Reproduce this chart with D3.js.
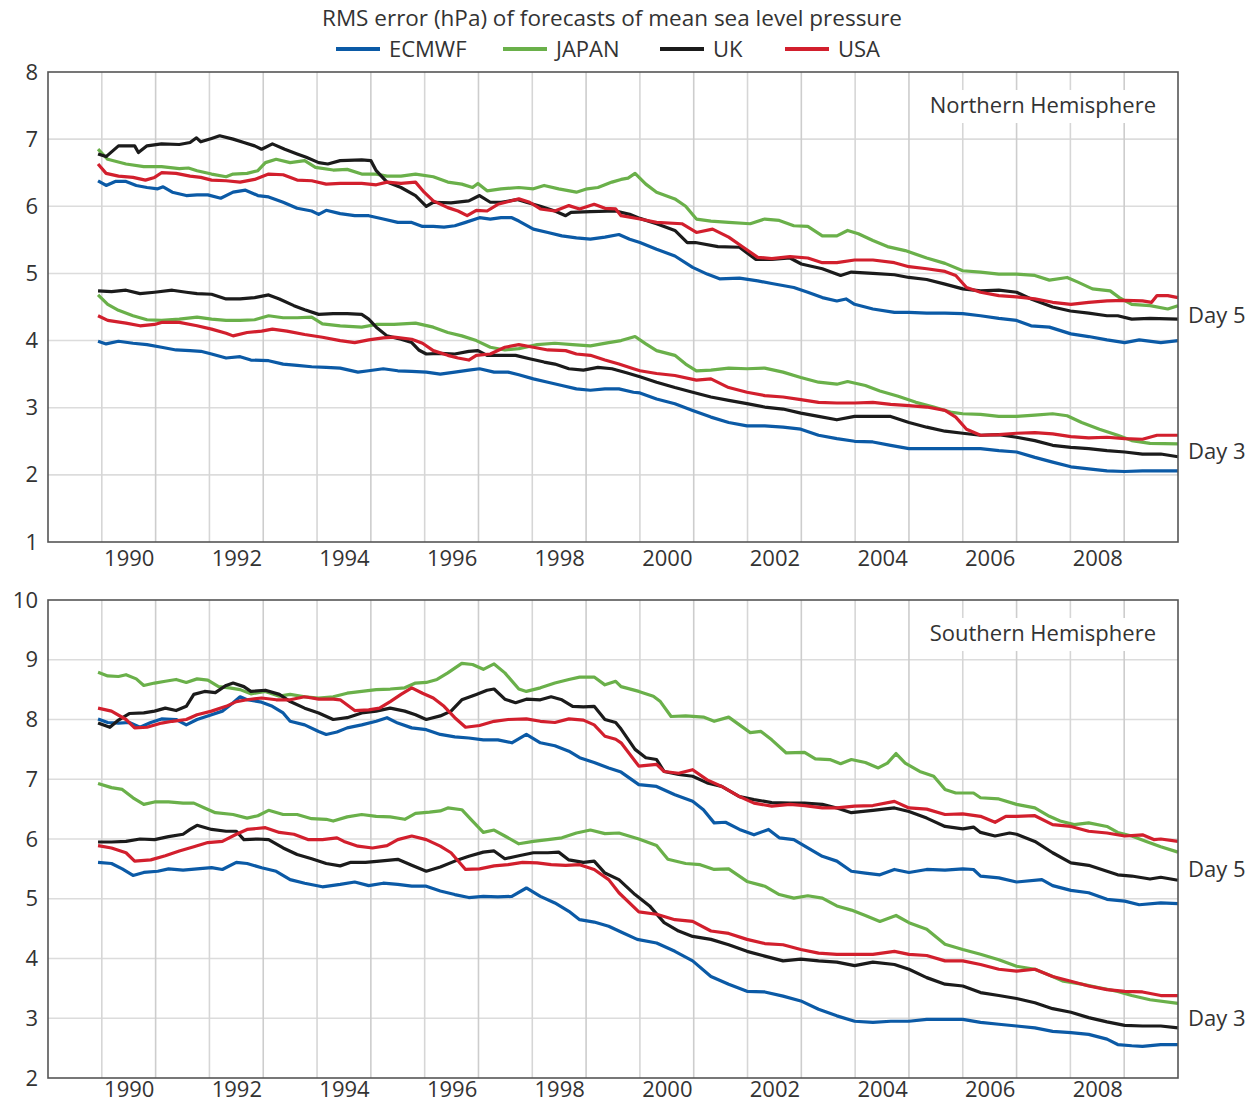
<!DOCTYPE html>
<html>
<head>
<meta charset="utf-8">
<script src="https://cdn.jsdelivr.net/npm/d3@7"></script>
<style>
  body { margin: 0; background: #fff; }
  svg text { font-family: "Open Sans", "Noto Sans", sans-serif; fill: #333; }
</style>
</head>
<body>
<div id="chart"></div>
<script>
// centres shown in the legend, in drawing order
const centres = ["ECMWF", "JAPAN", "UK", "USA"];
const gridYears = d3.range(1990, 2010);
const labelYears = [1990, 1992, 1994, 1996, 1998, 2000, 2002, 2004, 2006, 2008];
const nhTicks = [1, 2, 3, 4, 5, 6, 7, 8];
const shTicks = [2, 3, 4, 5, 6, 7, 8, 9, 10];

// ---- Northern Hemisphere, day 5 ----
const nhDay5Ecmwf = [[1989.93,6.38],[1990.08,6.31],[1990.25,6.37],[1990.45,6.37],[1990.64,6.31],[1990.84,6.28],[1991.04,6.26],[1991.14,6.29],[1991.31,6.21],[1991.57,6.16],[1991.77,6.17],[1991.97,6.17],[1992.21,6.12],[1992.44,6.21],[1992.67,6.24],[1992.90,6.16],[1993.10,6.14],[1993.37,6.06],[1993.63,5.97],[1993.90,5.93],[1994.03,5.88],[1994.17,5.94],[1994.43,5.89],[1994.70,5.86],[1994.96,5.86],[1995.23,5.81],[1995.50,5.76],[1995.76,5.76],[1995.96,5.70],[1996.16,5.70],[1996.36,5.69],[1996.56,5.71],[1996.76,5.76],[1997.02,5.83],[1997.22,5.81],[1997.42,5.83],[1997.62,5.83],[1997.75,5.78],[1998.02,5.66],[1998.29,5.61],[1998.55,5.56],[1998.82,5.53],[1999.08,5.51],[1999.35,5.54],[1999.61,5.58],[1999.81,5.51],[2000.00,5.46],[2000.31,5.36],[2000.65,5.26],[2000.98,5.09],[2001.25,4.99],[2001.48,4.92],[2001.85,4.93],[2002.19,4.89],[2002.45,4.85],[2002.86,4.79],[2003.12,4.72],[2003.39,4.64],[2003.66,4.59],[2003.83,4.62],[2003.99,4.54],[2004.33,4.47],[2004.73,4.42],[2005.00,4.42],[2005.33,4.41],[2005.67,4.41],[2006.00,4.40],[2006.33,4.37],[2006.67,4.33],[2007.00,4.30],[2007.27,4.22],[2007.61,4.20],[2008.01,4.10],[2008.34,4.06],[2008.68,4.01],[2009.01,3.97],[2009.28,4.01],[2009.68,3.97],[2010.00,4.00]];
const nhDay5Japan = [[1989.93,6.85],[1990.11,6.70],[1990.45,6.63],[1990.78,6.59],[1991.11,6.59],[1991.44,6.56],[1991.61,6.57],[1991.77,6.53],[1992.04,6.48],[1992.31,6.44],[1992.44,6.48],[1992.70,6.49],[1992.90,6.53],[1993.04,6.65],[1993.24,6.70],[1993.50,6.65],[1993.77,6.68],[1993.97,6.58],[1994.30,6.54],[1994.56,6.55],[1994.83,6.48],[1995.10,6.48],[1995.30,6.45],[1995.56,6.45],[1995.83,6.48],[1996.16,6.44],[1996.43,6.36],[1996.69,6.33],[1996.89,6.28],[1996.99,6.34],[1997.16,6.23],[1997.42,6.26],[1997.75,6.28],[1998.02,6.26],[1998.22,6.31],[1998.49,6.26],[1998.82,6.21],[1999.02,6.26],[1999.22,6.28],[1999.48,6.36],[1999.65,6.40],[1999.78,6.42],[1999.91,6.49],[2000.11,6.33],[2000.31,6.21],[2000.65,6.11],[2000.85,6.00],[2001.05,5.81],[2001.32,5.78],[2001.65,5.76],[2002.05,5.74],[2002.32,5.81],[2002.59,5.79],[2002.86,5.71],[2003.12,5.70],[2003.39,5.56],[2003.66,5.56],[2003.86,5.64],[2004.06,5.59],[2004.33,5.49],[2004.60,5.40],[2004.93,5.34],[2005.33,5.23],[2005.67,5.15],[2006.00,5.04],[2006.33,5.02],[2006.67,4.99],[2007.00,4.99],[2007.34,4.97],[2007.61,4.90],[2007.94,4.94],[2008.14,4.87],[2008.41,4.77],[2008.74,4.74],[2008.91,4.64],[2009.14,4.54],[2009.48,4.52],[2009.81,4.47],[2010.00,4.52]];
const nhDay5Uk = [[1989.93,6.78],[1990.08,6.74],[1990.31,6.90],[1990.61,6.90],[1990.68,6.80],[1990.84,6.90],[1991.11,6.93],[1991.44,6.92],[1991.64,6.95],[1991.76,7.02],[1991.84,6.96],[1992.04,7.01],[1992.19,7.05],[1992.44,7.00],[1992.64,6.95],[1992.84,6.90],[1992.97,6.85],[1993.17,6.93],[1993.40,6.85],[1993.63,6.78],[1993.80,6.73],[1994.03,6.65],[1994.20,6.63],[1994.43,6.68],[1994.83,6.69],[1995.00,6.68],[1995.10,6.53],[1995.30,6.36],[1995.56,6.28],[1995.83,6.16],[1996.03,6.00],[1996.16,6.06],[1996.49,6.05],[1996.82,6.08],[1997.02,6.16],[1997.22,6.06],[1997.42,6.06],[1997.72,6.10],[1997.89,6.06],[1998.15,6.00],[1998.42,5.93],[1998.62,5.86],[1998.72,5.91],[1999.08,5.92],[1999.55,5.93],[1999.81,5.88],[2000.00,5.82],[2000.31,5.74],[2000.65,5.64],[2000.88,5.46],[2001.03,5.46],[2001.45,5.40],[2001.85,5.39],[2002.15,5.21],[2002.45,5.21],[2002.79,5.23],[2003.00,5.14],[2003.39,5.07],[2003.73,4.97],[2003.93,5.02],[2004.33,5.00],[2004.73,4.98],[2005.00,4.94],[2005.33,4.91],[2005.67,4.84],[2006.00,4.77],[2006.33,4.74],[2006.67,4.75],[2007.00,4.72],[2007.27,4.62],[2007.67,4.50],[2008.00,4.44],[2008.34,4.41],[2008.68,4.37],[2008.88,4.37],[2009.14,4.32],[2009.48,4.33],[2010.00,4.32]];
const nhDay5Usa = [[1989.93,6.63],[1990.08,6.49],[1990.31,6.45],[1990.58,6.43],[1990.81,6.39],[1990.98,6.43],[1991.11,6.50],[1991.38,6.49],[1991.64,6.45],[1991.84,6.43],[1992.04,6.39],[1992.31,6.38],[1992.57,6.36],[1992.84,6.40],[1993.10,6.48],[1993.37,6.47],[1993.63,6.39],[1993.90,6.38],[1994.17,6.33],[1994.43,6.34],[1994.83,6.34],[1995.10,6.32],[1995.30,6.36],[1995.56,6.34],[1995.83,6.36],[1995.99,6.21],[1996.16,6.08],[1996.43,5.98],[1996.62,5.93],[1996.79,5.86],[1996.96,5.94],[1997.16,5.93],[1997.36,6.03],[1997.75,6.11],[1997.95,6.06],[1998.15,5.96],[1998.42,5.93],[1998.68,6.01],[1998.88,5.96],[1999.15,6.03],[1999.35,5.97],[1999.55,5.96],[1999.65,5.86],[2000.00,5.81],[2000.31,5.76],[2000.78,5.74],[2001.05,5.61],[2001.35,5.66],[2001.65,5.54],[2001.92,5.39],[2002.19,5.24],[2002.45,5.22],[2002.79,5.25],[2003.12,5.23],[2003.39,5.16],[2003.66,5.16],[2003.99,5.20],[2004.33,5.20],[2004.73,5.16],[2005.00,5.10],[2005.33,5.07],[2005.67,5.03],[2005.87,4.97],[2006.07,4.79],[2006.33,4.72],[2006.67,4.67],[2007.00,4.65],[2007.34,4.62],[2007.67,4.57],[2008.01,4.54],[2008.34,4.57],[2008.68,4.59],[2009.01,4.60],[2009.34,4.59],[2009.51,4.57],[2009.61,4.67],[2009.81,4.67],[2010.00,4.64]];

// ---- Northern Hemisphere, day 3 ----
const nhDay3Ecmwf = [[1989.93,3.99],[1990.08,3.95],[1990.31,3.99],[1990.58,3.96],[1990.84,3.94],[1991.11,3.90],[1991.38,3.86],[1991.64,3.85],[1991.84,3.84],[1992.04,3.80],[1992.31,3.74],[1992.57,3.76],[1992.77,3.71],[1993.10,3.70],[1993.37,3.65],[1993.63,3.63],[1993.90,3.61],[1994.17,3.60],[1994.43,3.59],[1994.76,3.53],[1994.96,3.55],[1995.23,3.58],[1995.50,3.55],[1995.76,3.54],[1996.03,3.53],[1996.29,3.50],[1996.56,3.53],[1996.82,3.56],[1997.02,3.58],[1997.29,3.53],[1997.55,3.53],[1997.75,3.49],[1998.02,3.43],[1998.29,3.38],[1998.55,3.33],[1998.82,3.28],[1999.08,3.26],[1999.35,3.28],[1999.61,3.28],[1999.88,3.23],[2000.00,3.22],[2000.31,3.13],[2000.65,3.06],[2000.98,2.96],[2001.32,2.86],[2001.65,2.78],[2001.99,2.73],[2002.32,2.73],[2002.66,2.71],[2002.99,2.68],[2003.32,2.59],[2003.66,2.54],[2003.99,2.50],[2004.33,2.49],[2004.66,2.44],[2005.00,2.39],[2005.33,2.39],[2005.67,2.39],[2006.00,2.39],[2006.33,2.39],[2006.67,2.36],[2007.00,2.34],[2007.34,2.26],[2007.67,2.19],[2008.01,2.12],[2008.34,2.09],[2008.68,2.06],[2009.01,2.05],[2009.34,2.06],[2009.68,2.06],[2010.00,2.06]];
const nhDay3Japan = [[1989.93,4.68],[1990.11,4.54],[1990.31,4.45],[1990.58,4.37],[1990.84,4.31],[1991.11,4.30],[1991.44,4.32],[1991.77,4.35],[1992.04,4.32],[1992.31,4.30],[1992.57,4.30],[1992.84,4.31],[1993.10,4.37],[1993.37,4.34],[1993.63,4.34],[1993.90,4.35],[1994.10,4.25],[1994.43,4.22],[1994.83,4.20],[1995.10,4.24],[1995.43,4.24],[1995.83,4.26],[1996.16,4.20],[1996.43,4.12],[1996.69,4.07],[1996.96,4.00],[1997.22,3.90],[1997.49,3.86],[1997.75,3.88],[1998.09,3.94],[1998.42,3.96],[1998.75,3.94],[1999.08,3.92],[1999.42,3.97],[1999.65,4.00],[1999.91,4.06],[2000.11,3.95],[2000.31,3.85],[2000.65,3.78],[2000.85,3.65],[2001.05,3.55],[2001.32,3.56],[2001.65,3.59],[2001.99,3.58],[2002.32,3.59],[2002.66,3.53],[2002.99,3.45],[2003.32,3.38],[2003.66,3.35],[2003.86,3.39],[2004.19,3.33],[2004.46,3.25],[2004.80,3.17],[2005.13,3.08],[2005.46,3.01],[2005.80,2.93],[2006.00,2.91],[2006.33,2.90],[2006.67,2.87],[2007.00,2.87],[2007.34,2.89],[2007.67,2.91],[2007.94,2.88],[2008.21,2.78],[2008.54,2.68],[2008.88,2.59],[2009.14,2.51],[2009.48,2.47],[2010.00,2.46]];
const nhDay3Uk = [[1989.93,4.74],[1990.18,4.73],[1990.45,4.75],[1990.71,4.70],[1990.98,4.72],[1991.31,4.75],[1991.57,4.72],[1991.77,4.70],[1992.04,4.69],[1992.31,4.62],[1992.57,4.62],[1992.84,4.64],[1993.10,4.68],[1993.30,4.62],[1993.57,4.52],[1993.77,4.46],[1994.03,4.39],[1994.30,4.40],[1994.56,4.40],[1994.83,4.39],[1994.96,4.32],[1995.10,4.20],[1995.30,4.07],[1995.56,4.02],[1995.76,3.97],[1995.89,3.86],[1996.03,3.80],[1996.29,3.81],[1996.56,3.80],[1996.82,3.84],[1996.99,3.85],[1997.16,3.78],[1997.42,3.78],[1997.69,3.78],[1997.95,3.73],[1998.22,3.68],[1998.42,3.65],[1998.68,3.58],[1998.95,3.56],[1999.22,3.60],[1999.48,3.58],[1999.75,3.52],[2000.00,3.46],[2000.31,3.38],[2000.65,3.30],[2000.98,3.23],[2001.32,3.16],[2001.65,3.11],[2001.99,3.06],[2002.32,3.01],[2002.66,2.98],[2002.99,2.92],[2003.32,2.87],[2003.66,2.82],[2003.99,2.87],[2004.33,2.87],[2004.66,2.87],[2005.00,2.78],[2005.33,2.71],[2005.67,2.65],[2006.00,2.62],[2006.33,2.59],[2006.67,2.60],[2007.00,2.56],[2007.34,2.51],[2007.67,2.44],[2008.01,2.41],[2008.34,2.39],[2008.68,2.36],[2009.01,2.34],[2009.34,2.31],[2009.68,2.31],[2010.00,2.27]];
const nhDay3Usa = [[1989.93,4.37],[1990.11,4.30],[1990.45,4.26],[1990.71,4.22],[1990.98,4.24],[1991.11,4.27],[1991.44,4.27],[1991.77,4.22],[1992.04,4.17],[1992.31,4.11],[1992.44,4.07],[1992.70,4.12],[1992.97,4.14],[1993.17,4.17],[1993.44,4.14],[1993.77,4.09],[1994.10,4.05],[1994.43,4.00],[1994.70,3.97],[1994.96,4.01],[1995.23,4.04],[1995.43,4.05],[1995.76,4.02],[1995.96,3.96],[1996.16,3.85],[1996.43,3.78],[1996.62,3.74],[1996.82,3.71],[1996.96,3.78],[1997.22,3.80],[1997.49,3.90],[1997.75,3.94],[1998.02,3.90],[1998.29,3.86],[1998.62,3.85],[1998.82,3.80],[1999.08,3.78],[1999.35,3.71],[1999.61,3.65],[1999.88,3.58],[2000.00,3.55],[2000.31,3.51],[2000.65,3.48],[2001.05,3.41],[2001.32,3.43],[2001.65,3.30],[2001.99,3.23],[2002.32,3.18],[2002.66,3.16],[2002.99,3.12],[2003.32,3.08],[2003.66,3.07],[2003.99,3.07],[2004.33,3.08],[2004.66,3.05],[2005.00,3.03],[2005.33,3.01],[2005.67,2.96],[2005.87,2.86],[2006.07,2.68],[2006.33,2.59],[2006.67,2.60],[2007.00,2.62],[2007.34,2.63],[2007.67,2.61],[2008.01,2.57],[2008.34,2.55],[2008.68,2.56],[2009.01,2.54],[2009.34,2.53],[2009.61,2.59],[2010.00,2.59]];

// ---- Southern Hemisphere, day 5 ----
const shDay5Ecmwf = [[1989.93,8.01],[1990.11,7.95],[1990.31,7.94],[1990.51,7.95],[1990.71,7.87],[1990.91,7.95],[1991.11,8.01],[1991.38,8.00],[1991.57,7.91],[1991.77,8.00],[1992.04,8.08],[1992.24,8.14],[1992.44,8.28],[1992.57,8.38],[1992.70,8.33],[1992.97,8.29],[1993.17,8.22],[1993.37,8.11],[1993.50,7.97],[1993.77,7.91],[1994.03,7.80],[1994.17,7.75],[1994.37,7.79],[1994.56,7.86],[1994.83,7.91],[1995.10,7.97],[1995.30,8.03],[1995.50,7.94],[1995.76,7.86],[1996.03,7.83],[1996.29,7.75],[1996.56,7.71],[1996.82,7.69],[1997.09,7.66],[1997.36,7.66],[1997.62,7.61],[1997.89,7.75],[1998.15,7.61],[1998.42,7.56],[1998.68,7.47],[1998.88,7.36],[1999.15,7.28],[1999.42,7.19],[1999.65,7.12],[1999.98,6.91],[2000.31,6.88],[2000.65,6.74],[2000.98,6.63],[2001.18,6.49],[2001.38,6.27],[2001.59,6.28],[2001.85,6.16],[2002.12,6.07],[2002.39,6.16],[2002.59,6.02],[2002.86,5.99],[2003.12,5.85],[2003.39,5.71],[2003.66,5.63],[2003.93,5.46],[2004.19,5.43],[2004.46,5.40],[2004.73,5.49],[2005.00,5.44],[2005.33,5.49],[2005.67,5.48],[2006.00,5.50],[2006.20,5.49],[2006.33,5.38],[2006.67,5.35],[2007.00,5.28],[2007.47,5.32],[2007.67,5.22],[2008.01,5.14],[2008.34,5.10],[2008.68,4.99],[2009.01,4.96],[2009.28,4.90],[2009.68,4.93],[2010.00,4.92]];
const shDay5Japan = [[1989.93,8.79],[1990.11,8.73],[1990.31,8.72],[1990.45,8.75],[1990.64,8.68],[1990.78,8.57],[1990.98,8.61],[1991.18,8.64],[1991.38,8.67],[1991.57,8.62],[1991.77,8.68],[1991.97,8.66],[1992.17,8.55],[1992.37,8.53],[1992.57,8.50],[1992.77,8.43],[1993.04,8.47],[1993.30,8.39],[1993.50,8.42],[1993.77,8.38],[1994.03,8.36],[1994.30,8.38],[1994.56,8.44],[1994.83,8.47],[1995.10,8.50],[1995.36,8.51],[1995.63,8.53],[1995.83,8.61],[1996.03,8.62],[1996.23,8.67],[1996.43,8.78],[1996.69,8.94],[1996.89,8.92],[1997.09,8.84],[1997.29,8.93],[1997.49,8.78],[1997.75,8.51],[1997.89,8.47],[1998.15,8.53],[1998.42,8.61],[1998.68,8.67],[1998.88,8.71],[1999.15,8.71],[1999.35,8.58],[1999.55,8.64],[1999.65,8.55],[1999.98,8.47],[2000.25,8.39],[2000.38,8.30],[2000.58,8.05],[2000.85,8.06],[2001.18,8.04],[2001.38,7.97],[2001.65,8.04],[2001.85,7.91],[2002.05,7.78],[2002.25,7.80],[2002.45,7.66],[2002.72,7.44],[2003.06,7.45],[2003.26,7.34],[2003.53,7.33],[2003.73,7.26],[2003.93,7.33],[2004.19,7.28],[2004.43,7.19],[2004.60,7.27],[2004.76,7.43],[2004.93,7.27],[2005.20,7.13],[2005.46,7.05],[2005.67,6.83],[2005.87,6.77],[2006.20,6.77],[2006.33,6.69],[2006.67,6.67],[2007.00,6.58],[2007.34,6.52],[2007.61,6.38],[2007.81,6.30],[2008.07,6.24],[2008.34,6.27],[2008.68,6.21],[2008.88,6.11],[2009.14,6.05],[2009.41,5.96],[2009.68,5.87],[2010.00,5.78]];
const shDay5Uk = [[1989.93,7.94],[1990.15,7.87],[1990.31,7.99],[1990.51,8.10],[1990.78,8.11],[1990.98,8.14],[1991.18,8.19],[1991.38,8.15],[1991.57,8.22],[1991.71,8.42],[1991.91,8.47],[1992.11,8.45],[1992.31,8.57],[1992.44,8.61],[1992.64,8.55],[1992.77,8.47],[1993.04,8.49],[1993.30,8.42],[1993.50,8.30],[1993.77,8.19],[1994.03,8.11],[1994.30,8.00],[1994.56,8.03],[1994.83,8.11],[1995.10,8.14],[1995.36,8.19],[1995.63,8.14],[1995.83,8.08],[1996.03,8.00],[1996.29,8.06],[1996.49,8.14],[1996.69,8.33],[1996.96,8.42],[1997.16,8.49],[1997.29,8.51],[1997.49,8.34],[1997.69,8.28],[1997.89,8.34],[1998.15,8.33],[1998.35,8.38],[1998.55,8.33],[1998.75,8.22],[1998.95,8.21],[1999.15,8.22],[1999.35,8.00],[1999.55,7.95],[1999.65,7.84],[1999.91,7.50],[2000.11,7.36],[2000.31,7.33],[2000.45,7.13],[2000.72,7.08],[2000.98,7.05],[2001.25,6.94],[2001.52,6.88],[2001.85,6.71],[2002.12,6.66],[2002.45,6.61],[2002.79,6.60],[2003.06,6.60],[2003.39,6.58],[2003.66,6.52],[2003.93,6.44],[2004.33,6.48],[2004.73,6.52],[2005.00,6.46],[2005.33,6.35],[2005.67,6.21],[2006.00,6.17],[2006.20,6.20],[2006.33,6.11],[2006.60,6.05],[2006.87,6.10],[2007.00,6.08],[2007.34,5.96],[2007.67,5.77],[2008.01,5.60],[2008.34,5.56],[2008.68,5.46],[2008.88,5.40],[2009.14,5.38],[2009.48,5.33],[2009.68,5.36],[2010.00,5.31]];
const shDay5Usa = [[1989.93,8.19],[1990.18,8.14],[1990.45,8.00],[1990.61,7.86],[1990.84,7.87],[1991.11,7.94],[1991.31,7.97],[1991.57,8.00],[1991.77,8.08],[1992.04,8.14],[1992.31,8.22],[1992.50,8.30],[1992.70,8.33],[1992.97,8.36],[1993.24,8.33],[1993.50,8.33],[1993.77,8.38],[1994.03,8.34],[1994.30,8.34],[1994.43,8.33],[1994.70,8.15],[1994.96,8.16],[1995.16,8.19],[1995.36,8.30],[1995.56,8.42],[1995.76,8.53],[1995.96,8.44],[1996.16,8.36],[1996.36,8.22],[1996.56,8.03],[1996.76,7.87],[1997.02,7.90],[1997.29,7.97],[1997.55,8.00],[1997.89,8.01],[1998.15,7.97],[1998.42,7.95],[1998.68,8.01],[1998.95,7.99],[1999.15,7.91],[1999.35,7.72],[1999.55,7.67],[1999.65,7.61],[1999.98,7.22],[2000.31,7.25],[2000.45,7.13],[2000.72,7.10],[2000.98,7.16],[2001.25,6.99],[2001.52,6.88],[2001.85,6.71],[2002.12,6.60],[2002.45,6.55],[2002.79,6.58],[2003.06,6.56],[2003.39,6.52],[2003.66,6.52],[2003.99,6.55],[2004.33,6.56],[2004.73,6.63],[2005.00,6.52],[2005.33,6.50],[2005.67,6.41],[2006.00,6.42],[2006.33,6.38],[2006.60,6.28],[2006.80,6.38],[2007.00,6.38],[2007.34,6.39],[2007.67,6.24],[2008.01,6.21],[2008.34,6.13],[2008.68,6.10],[2009.01,6.05],[2009.34,6.07],[2009.55,5.99],[2009.68,6.00],[2010.00,5.96]];

// ---- Southern Hemisphere, day 3 ----
const shDay3Ecmwf = [[1989.93,5.61],[1990.18,5.59],[1990.38,5.50],[1990.58,5.39],[1990.78,5.44],[1991.04,5.46],[1991.24,5.50],[1991.51,5.48],[1991.77,5.50],[1992.04,5.52],[1992.24,5.49],[1992.50,5.61],[1992.70,5.59],[1992.97,5.52],[1993.24,5.46],[1993.50,5.32],[1993.77,5.26],[1994.10,5.20],[1994.43,5.24],[1994.70,5.28],[1994.96,5.22],[1995.23,5.26],[1995.50,5.24],[1995.76,5.21],[1996.03,5.21],[1996.29,5.13],[1996.56,5.07],[1996.82,5.02],[1997.09,5.04],[1997.36,5.03],[1997.62,5.04],[1997.89,5.18],[1998.15,5.04],[1998.42,4.93],[1998.68,4.79],[1998.88,4.65],[1999.15,4.61],[1999.42,4.54],[1999.68,4.43],[1999.95,4.32],[2000.31,4.26],[2000.65,4.12],[2000.98,3.96],[2001.32,3.70],[2001.65,3.57],[2001.99,3.45],[2002.32,3.44],[2002.66,3.37],[2002.99,3.29],[2003.32,3.15],[2003.66,3.04],[2003.99,2.95],[2004.33,2.93],[2004.66,2.95],[2005.00,2.95],[2005.33,2.98],[2005.67,2.98],[2006.00,2.98],[2006.33,2.93],[2006.67,2.90],[2007.00,2.87],[2007.34,2.84],[2007.67,2.78],[2008.01,2.76],[2008.34,2.73],[2008.68,2.65],[2008.88,2.56],[2009.14,2.54],[2009.34,2.53],[2009.68,2.56],[2010.00,2.56]];
const shDay3Japan = [[1989.93,6.93],[1990.18,6.86],[1990.38,6.83],[1990.58,6.69],[1990.78,6.58],[1990.98,6.62],[1991.24,6.62],[1991.51,6.60],[1991.71,6.60],[1991.91,6.52],[1992.11,6.44],[1992.44,6.41],[1992.70,6.35],[1992.90,6.39],[1993.10,6.48],[1993.37,6.41],[1993.63,6.41],[1993.90,6.34],[1994.17,6.33],[1994.30,6.30],[1994.56,6.37],[1994.83,6.41],[1995.10,6.38],[1995.36,6.37],[1995.63,6.33],[1995.83,6.43],[1996.09,6.45],[1996.29,6.47],[1996.43,6.52],[1996.69,6.49],[1996.89,6.30],[1997.09,6.11],[1997.29,6.15],[1997.49,6.05],[1997.75,5.92],[1998.02,5.96],[1998.29,5.99],[1998.55,6.02],[1998.82,6.10],[1999.08,6.15],[1999.35,6.09],[1999.61,6.10],[1999.98,6.00],[2000.31,5.89],[2000.52,5.66],[2000.85,5.59],[2001.12,5.57],[2001.38,5.49],[2001.65,5.50],[2001.99,5.29],[2002.32,5.21],[2002.59,5.07],[2002.86,5.01],[2003.12,5.05],[2003.39,5.01],[2003.66,4.88],[2003.93,4.81],[2004.19,4.72],[2004.46,4.62],[2004.76,4.72],[2005.00,4.60],[2005.33,4.49],[2005.67,4.24],[2006.00,4.15],[2006.33,4.07],[2006.67,3.98],[2007.00,3.87],[2007.34,3.82],[2007.67,3.70],[2007.87,3.62],[2008.21,3.57],[2008.54,3.51],[2008.88,3.45],[2009.14,3.38],[2009.48,3.31],[2010.00,3.25]];
const shDay3Uk = [[1989.93,5.95],[1990.18,5.95],[1990.45,5.96],[1990.71,6.00],[1990.98,5.99],[1991.24,6.04],[1991.51,6.08],[1991.64,6.16],[1991.77,6.23],[1992.04,6.16],[1992.31,6.13],[1992.50,6.13],[1992.64,5.99],[1992.90,6.00],[1993.10,5.99],[1993.37,5.85],[1993.63,5.74],[1993.90,5.67],[1994.17,5.59],[1994.43,5.55],[1994.63,5.61],[1994.90,5.61],[1995.16,5.63],[1995.50,5.66],[1995.76,5.56],[1996.03,5.46],[1996.29,5.53],[1996.56,5.63],[1996.82,5.71],[1997.09,5.78],[1997.29,5.80],[1997.49,5.67],[1997.75,5.72],[1998.02,5.77],[1998.29,5.77],[1998.49,5.78],[1998.68,5.65],[1998.95,5.61],[1999.15,5.63],[1999.35,5.43],[1999.61,5.32],[1999.91,5.07],[2000.18,4.88],[2000.45,4.60],[2000.72,4.46],[2000.98,4.37],[2001.32,4.32],[2001.65,4.23],[2001.99,4.12],[2002.32,4.04],[2002.66,3.96],[2002.99,3.99],[2003.32,3.96],[2003.66,3.94],[2003.99,3.88],[2004.33,3.94],[2004.73,3.90],[2005.00,3.82],[2005.33,3.68],[2005.67,3.57],[2006.00,3.54],[2006.33,3.43],[2006.67,3.38],[2007.00,3.33],[2007.34,3.26],[2007.67,3.16],[2008.01,3.10],[2008.34,3.01],[2008.68,2.94],[2009.01,2.88],[2009.34,2.87],[2009.68,2.87],[2010.00,2.84]];
const shDay3Usa = [[1989.93,5.89],[1990.18,5.85],[1990.45,5.77],[1990.61,5.63],[1990.91,5.65],[1991.18,5.72],[1991.44,5.80],[1991.71,5.87],[1991.97,5.94],[1992.24,5.96],[1992.50,6.08],[1992.70,6.16],[1993.04,6.19],[1993.30,6.11],[1993.57,6.08],[1993.83,5.99],[1994.10,5.99],[1994.37,6.02],[1994.50,5.96],[1994.76,5.88],[1995.03,5.85],[1995.30,5.89],[1995.50,5.99],[1995.76,6.05],[1996.03,5.99],[1996.29,5.88],[1996.49,5.77],[1996.76,5.49],[1997.02,5.50],[1997.29,5.55],[1997.55,5.57],[1997.82,5.61],[1998.09,5.60],[1998.35,5.57],[1998.62,5.56],[1998.88,5.57],[1999.15,5.49],[1999.42,5.32],[1999.61,5.10],[1999.98,4.78],[2000.31,4.74],[2000.65,4.65],[2000.98,4.62],[2001.32,4.46],[2001.65,4.42],[2001.99,4.32],[2002.32,4.25],[2002.66,4.23],[2002.99,4.15],[2003.32,4.09],[2003.66,4.07],[2003.99,4.07],[2004.33,4.07],[2004.73,4.12],[2005.00,4.07],[2005.33,4.05],[2005.67,3.96],[2006.00,3.96],[2006.33,3.90],[2006.67,3.82],[2007.00,3.79],[2007.34,3.82],[2007.67,3.70],[2008.01,3.62],[2008.34,3.54],[2008.68,3.48],[2009.01,3.45],[2009.34,3.44],[2009.68,3.38],[2010.00,3.38]];

(() => {
  const W = 1255, H = 1102;
  const colours = { ECMWF: "#0b5aa6", JAPAN: "#6ab04a", UK: "#1b1b1b", USA: "#d21f2d" };
  const fs = "22px";

  const svg = d3.select("#chart").append("svg").attr("width", W).attr("height", H);

  // shared x scale (years)
  const x = d3.scaleLinear().domain([1989, 2010]).range([48, 1178]);

  // title + legend
  svg.append("text").attr("x", 612).attr("y", 26).attr("text-anchor", "middle")
    .style("font-size", "22.5px").text("RMS error (hPa) of forecasts of mean sea level pressure");

  const legendX = [336, 503, 660, 785];
  const legend = svg.append("g").selectAll("g").data(centres).join("g")
    .attr("transform", (d, i) => `translate(${legendX[i]},49)`);
  legend.append("line").attr("x1", 0).attr("x2", 44)
    .attr("stroke", d => colours[d]).attr("stroke-width", 4);
  legend.append("text").attr("x", 53).attr("dy", "0.36em").style("font-size", fs).text(d => d);

  const panels = [
    { name: "Northern Hemisphere", top: 72, bottom: 542, domain: [1, 8], ticks: nhTicks, labelDy: 24,
      day5: [nhDay5Ecmwf, nhDay5Japan, nhDay5Uk, nhDay5Usa],
      day3: [nhDay3Ecmwf, nhDay3Japan, nhDay3Uk, nhDay3Usa] },
    { name: "Southern Hemisphere", top: 600, bottom: 1078, domain: [2, 10], ticks: shTicks, labelDy: 19,
      day5: [shDay5Ecmwf, shDay5Japan, shDay5Uk, shDay5Usa],
      day3: [shDay3Ecmwf, shDay3Japan, shDay3Uk, shDay3Usa] }
  ];

  panels.forEach(p => drawPanel(p));

  function drawPanel(p) {
    const y = d3.scaleLinear().domain(p.domain).range([p.bottom, p.top]);
    const g = svg.append("g");

    // grid
    g.append("g").selectAll("line").data(p.ticks.slice(1, -1)).join("line")
      .attr("x1", x.range()[0]).attr("x2", x.range()[1])
      .attr("y1", d => y(d)).attr("y2", d => y(d))
      .attr("stroke", "#dcdcdc").attr("stroke-width", 1.6);
    g.append("g").selectAll("line").data(gridYears).join("line")
      .attr("x1", d => x(d)).attr("x2", d => x(d))
      .attr("y1", p.top).attr("y2", p.bottom)
      .attr("stroke", (d, i) => i % 2 ? "#cdcdcd" : "#d6d6d6").attr("stroke-width", 1.6);

    // hemisphere label with white backing
    const lab = g.append("text").attr("x", 1156).attr("y", p.top + 41)
      .attr("text-anchor", "end").style("font-size", fs).text(p.name);
    const bb = lab.node().getBBox();
    g.insert("rect", "text").attr("x", bb.x - 8).attr("y", p.top + 18)
      .attr("width", x.range()[1] - bb.x + 8).attr("height", 33).attr("fill", "#fff");

    // series
    const line = d3.line().x(d => x(d[0])).y(d => y(d[1]));
    [p.day5, p.day3].forEach(group => {
      group.forEach((s, i) => {
        g.append("path").datum(s).attr("d", line).attr("fill", "none")
          .attr("stroke", colours[centres[i]]).attr("stroke-width", 3.2)
          .attr("stroke-linejoin", "round");
      });
    });

    // frame
    g.append("rect").attr("x", x.range()[0]).attr("y", p.top)
      .attr("width", x.range()[1] - x.range()[0]).attr("height", p.bottom - p.top)
      .attr("fill", "none").attr("stroke", "#555").attr("stroke-width", 1.6);

    // axes labels
    const yAxis = d3.axisLeft(y).tickValues(p.ticks).tickSize(0).tickPadding(10).tickFormat(d3.format("d"));
    g.append("g").attr("transform", `translate(${x.range()[0]},0)`).call(yAxis)
      .call(a => a.select(".domain").remove())
      .selectAll("text").style("font-size", fs).attr("fill", "#333");

    const xAxis = d3.axisBottom(x).tickValues(labelYears.map(v => v + 0.5)).tickSize(0)
      .tickFormat(d => String(Math.floor(d)));
    g.append("g").attr("transform", `translate(0,${p.bottom})`).call(xAxis)
      .call(a => a.select(".domain").remove())
      .selectAll("text").attr("y", p.labelDy).attr("dy", null)
      .style("font-size", fs).attr("fill", "#333");

    // "Day 5" / "Day 3" beside the line ends
    [["Day 5", p.day5], ["Day 3", p.day3]].forEach(([t, group]) => {
      const endMean = d3.mean(group, s => s[s.length - 1][1]);
      g.append("text").attr("x", 1188).attr("y", y(endMean)).attr("dy", "0.35em")
        .style("font-size", fs).text(t);
    });
  }
})();
</script>
</body>
</html>
